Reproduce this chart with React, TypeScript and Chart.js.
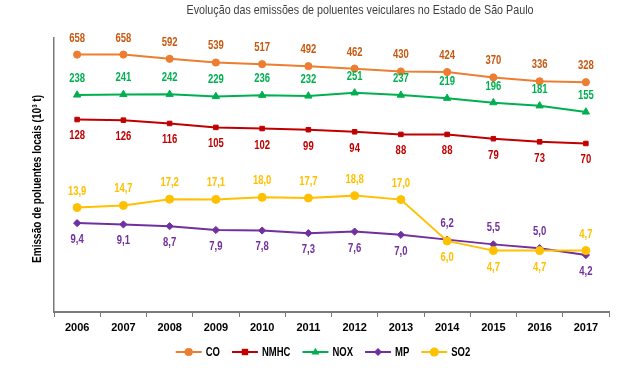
import React, { useEffect, useRef } from "react";
import { Chart, registerables } from "chart.js";

Chart.register(...registerables);

const years = ["2006", "2007", "2008", "2009", "2010", "2011", "2012", "2013", "2014", "2015", "2016", "2017"];
const coValues = [658, 658, 592, 539, 517, 492, 462, 430, 424, 370, 336, 328];
const nmhcValues = [128, 126, 116, 105, 102, 99, 94, 88, 88, 79, 73, 70];
const noxValues = [238, 241, 242, 229, 236, 232, 251, 237, 219, 196, 181, 155];
const mpValues = [9.4, 9.1, 8.7, 7.9, 7.8, 7.3, 7.6, 7.0, 6.2, 5.5, 5.0, 4.2];
const so2Values = [13.9, 14.7, 17.2, 17.1, 18.0, 17.7, 18.8, 17.0, 6.0, 4.7, 4.7, 4.7];

const T = "top";
const B = "bottom";
const coLabelPos = Array(12).fill(T);
const nmhcLabelPos = Array(12).fill(B);
const noxLabelPos = Array(12).fill(T);
const mpLabelPos = [B, B, B, B, B, B, B, B, T, T, T, B];
const so2LabelPos = [T, T, T, T, T, T, T, T, B, B, B, T];

const FONT = "'Liberation Sans', Arial, sans-serif";
const SX = 0.76; // horizontal squeeze to mimic a condensed face

type SeriesCfg = {
  name: string;
  data: number[];
  color: string;
  labelColor: string;
  pointStyle: string;
  radius: number;
  decimals: number;
  pos: string[];
};

const series: SeriesCfg[] = [
  { name: "CO", data: coValues, color: "#ED7D31", labelColor: "#C65911", pointStyle: "circle", radius: 3.6, decimals: 0, pos: coLabelPos },
  { name: "NMHC", data: nmhcValues, color: "#C00000", labelColor: "#C00000", pointStyle: "rect", radius: 3.2, decimals: 0, pos: nmhcLabelPos },
  { name: "NOX", data: noxValues, color: "#00B050", labelColor: "#00B050", pointStyle: "triangle", radius: 4.2, decimals: 0, pos: noxLabelPos },
  { name: "MP", data: mpValues, color: "#7030A0", labelColor: "#7030A0", pointStyle: "rectRot", radius: 3.6, decimals: 1, pos: mpLabelPos },
  { name: "SO2", data: so2Values, color: "#FFC000", labelColor: "#FFC000", pointStyle: "circle", radius: 4, decimals: 1, pos: so2LabelPos },
];

const fmt = (v: number, d: number) => (d > 0 ? v.toFixed(d).replace(".", ",") : String(Math.round(v)));

function squeezedText(ctx: CanvasRenderingContext2D, text: string, x: number, y: number, align: "left" | "center", sx: number) {
  ctx.save();
  ctx.translate(x, y);
  ctx.scale(sx, 1);
  ctx.textAlign = align;
  ctx.fillText(text, 0, 0);
  ctx.restore();
}

function drawMarker(ctx: CanvasRenderingContext2D, style: string, x: number, y: number, r: number) {
  ctx.beginPath();
  if (style === "circle") {
    ctx.arc(x, y, r + 0.5, 0, Math.PI * 2);
  } else if (style === "rect") {
    ctx.rect(x - r, y - r, r * 2, r * 2);
  } else if (style === "triangle") {
    ctx.moveTo(x, y - r);
    ctx.lineTo(x + r * 0.95, y + r * 0.6);
    ctx.lineTo(x - r * 0.95, y + r * 0.6);
    ctx.closePath();
  } else if (style === "rectRot") {
    ctx.moveTo(x, y - r - 0.5);
    ctx.lineTo(x + r + 0.5, y);
    ctx.lineTo(x, y + r + 0.5);
    ctx.lineTo(x - r - 0.5, y);
    ctx.closePath();
  }
  ctx.fill();
}

const extrasPlugin = {
  id: "extras",
  afterDatasetsDraw(chart: any) {
    const ctx = chart.ctx as CanvasRenderingContext2D;
    ctx.save();
    ctx.font = `bold 12.5px ${FONT}`;
    ctx.textBaseline = "middle";
    series.forEach((s, i) => {
      const meta = chart.getDatasetMeta(i);
      ctx.fillStyle = s.labelColor;
      meta.data.forEach((pt: any, j: number) => {
        const off = s.pos[j] === T ? -16.5 : 16.5;
        squeezedText(ctx, fmt(s.data[j], s.decimals), pt.x, pt.y + off, "center", SX);
      });
    });
    ctx.restore();
  },
  afterDraw(chart: any) {
    const ctx = chart.ctx as CanvasRenderingContext2D;
    const area = chart.chartArea;
    ctx.save();
    ctx.textBaseline = "middle";
    // title
    ctx.font = `13px ${FONT}`;
    ctx.fillStyle = "#404040";
    const title = "Evolução das emissões de poluentes veiculares no Estado de São Paulo";
    const tw = ctx.measureText(title).width;
    squeezedText(ctx, title, 360, 10, "center", 347 / tw);
    // y title
    ctx.save();
    ctx.translate(38, (area.top + area.bottom) / 2 + 4);
    ctx.rotate(-Math.PI / 2);
    ctx.font = `bold 12.5px ${FONT}`;
    ctx.fillStyle = "#000";
    const yt = "Emissão de poluentes locais (10³ t)";
    const yw = ctx.measureText(yt).width;
    squeezedText(ctx, yt, 0, 0, "center", 168 / yw);
    ctx.restore();
    // legend
    ctx.font = `bold 12.5px ${FONT}`;
    const lineW = 26;
    const gapAfterLine = 4;
    const gapItem = 12;
    const widths = series.map((s) => lineW + gapAfterLine + ctx.measureText(s.name).width * SX);
    const total = widths.reduce((a, b) => a + b, 0) + gapItem * (series.length - 1);
    let x = 323 - total / 2;
    const y = 352;
    series.forEach((s, i) => {
      ctx.strokeStyle = s.color;
      ctx.lineWidth = 2;
      ctx.beginPath();
      ctx.moveTo(x, y);
      ctx.lineTo(x + lineW, y);
      ctx.stroke();
      ctx.fillStyle = s.color;
      drawMarker(ctx, s.pointStyle, x + lineW / 2, y, s.radius);
      ctx.fillStyle = "#000";
      squeezedText(ctx, s.name, x + lineW + gapAfterLine, y + 0.5, "left", SX);
      x += widths[i] + gapItem;
    });
    ctx.restore();
  },
};

export default function App() {
  const ref = useRef<HTMLCanvasElement | null>(null);
  useEffect(() => {
    if (!ref.current) return;
    const chart = new Chart(ref.current, {
      type: "line",
      data: {
        labels: years,
        datasets: series.map((s) => ({
          label: s.name,
          data: s.data,
          borderColor: s.color,
          backgroundColor: s.color,
          pointBackgroundColor: s.color,
          pointBorderColor: s.color,
          pointBorderWidth: 1,
          pointStyle: s.pointStyle as any,
          pointRadius: s.radius,
          borderWidth: 2,
          tension: 0,
          order: s.name === "SO2" ? 0 : 1,
        })),
      },
      options: {
        animation: false,
        responsive: false,
        maintainAspectRatio: false,
        layout: { padding: { left: 0, right: 13, top: 38, bottom: 26 } },
        plugins: {
          legend: { display: false },
          tooltip: { enabled: false },
          title: { display: false },
        },
        scales: {
          x: {
            type: "category",
            offset: true,
            grid: { display: true, offset: true, drawOnChartArea: false, drawTicks: true, tickLength: 5, color: "#7a7a7a", lineWidth: 1 },
            border: { display: true, color: "#7a7a7a", width: 2 },
            ticks: { color: "#000", font: { family: FONT, size: 11, weight: "bold" }, padding: 4, maxRotation: 0, autoSkip: false },
            afterFit: (scale: any) => {
              scale.height = 30;
            },
          },
          y: {
            type: "logarithmic",
            min: 1,
            max: 1000,
            grid: { display: false, drawTicks: false },
            border: { display: true, color: "#7a7a7a", width: 1.5 },
            ticks: { display: false },
            afterFit: (scale: any) => {
              scale.width = 54;
            },
          },
        },
      },
      plugins: [extrasPlugin],
    });
    return () => chart.destroy();
  }, []);
  return (
    <div style={{ position: "fixed", left: 0, top: 0, width: 622, height: 368, background: "#fff" }}>
      <canvas ref={ref} width={622} height={368} style={{ width: 622, height: 368, display: "block" }} />
    </div>
  );
}
